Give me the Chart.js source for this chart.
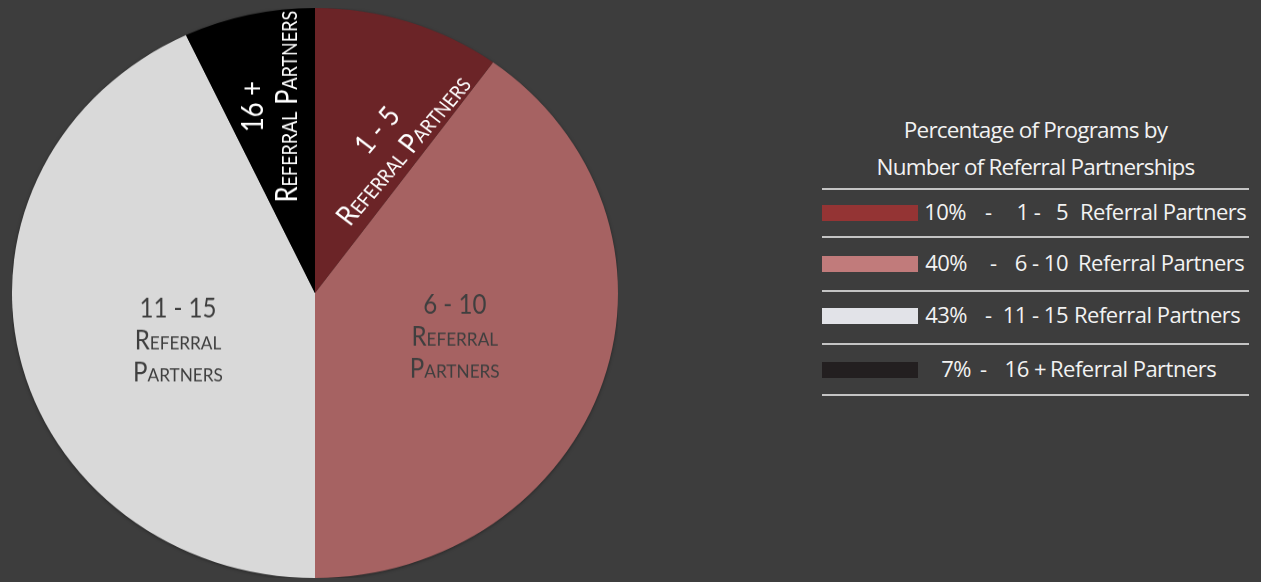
<!DOCTYPE html>
<html>
<head>
<meta charset="utf-8">
<script src="https://cdn.jsdelivr.net/npm/chart.js@4/dist/chart.umd.min.js"></script>
<style>
    html, body { margin: 0; padding: 0; }
    body { width: 1261px; height: 582px; background: #3d3d3d; overflow: hidden; position: relative; font-family: "Open Sans", sans-serif; }
    #pie-wrap { position: absolute; left: 12px; top: -10px; width: 606px; height: 606px; transform: scaleY(0.9406); transform-origin: 50% 50%; }
    #legend { position: absolute; left: 822px; top: 0; width: 427px; height: 582px; color: #f2f2f2; }
    #legend .title { position: absolute; top: 111px; left: 0; width: 100%; text-align: center; font-size: 22.5px; line-height: 37px; letter-spacing: -0.8px; }
    #legend .rule { position: absolute; left: 0; width: 100%; height: 2px; background: #c4c4c4; }
    #legend .swatch { position: absolute; left: 0; width: 96px; height: 16px; }
    #legend .part { position: absolute; font-size: 22px; line-height: 26px; white-space: pre; letter-spacing: -0.5px; }
</style>
</head>
<body>
<div id="pie-wrap"><canvas id="pie" width="606" height="606"></canvas></div>
<div id="legend"></div>

<script>
// data
const categories = ['1 - 5 Referral Partners', '6 - 10 Referral Partners', '11 - 15 Referral Partners', '16 + Referral Partners'];
const ranges = ['1 - 5', '6 - 10', '11 - 15', '16 +'];
const percents = [10, 40, 43, 7];
const legendRanges = ['1 -   5', '6 - 10', '11 - 15', '16 +'];
const legendTitle = ['Percentage of Programs by', 'Number of Referral Partnerships'];

// colours
const sliceColors = ['#6b2427', '#a66262', '#d9d9d9', '#000000'];
const swatchColors = ['#943434', '#c17b7b', '#e2e3e8', '#231f20'];

// label placement inside the slices
const labelStyle = [
    { f: 0.59, shift: 7, rot: -51, color: '#ffffff', split: false, size: 29, sx: 0.91 },
    { f: 0.485, shift: 0, rot: 0, color: '#3f3f3f', split: true, size: 28, sx: 0.86 },
    { f: 0.48, shift: -7, rot: 0, color: '#3f3f3f', split: true, size: 28, sx: 0.86 },
    { f: 0.67, shift: 0, rot: -90, color: '#ffffff', split: false, size: 30, sx: 0.91 }
];

// shadow under the pie
const pieShadow = {
    id: 'pieShadow',
    beforeDatasetsDraw(chart) {
        const arc = chart.getDatasetMeta(0).data[0];
        const ctx = chart.ctx;
        ctx.save();
        ctx.shadowColor = 'rgba(0,0,0,0.6)';
        ctx.shadowBlur = 4;
        ctx.shadowOffsetY = 1;
        ctx.fillStyle = '#000';
        ctx.beginPath();
        ctx.arc(arc.x, arc.y, arc.outerRadius - 1, 0, Math.PI * 2);
        ctx.fill();
        ctx.restore();
    }
};

// text in the slices
const sliceLabels = {
    id: 'sliceLabels',
    afterDatasetsDraw(chart) {
        const ctx = chart.ctx;
        chart.getDatasetMeta(0).data.forEach((arc, i) => {
            const p = arc.getProps(['x', 'y', 'startAngle', 'endAngle', 'outerRadius'], true);
            const st = labelStyle[i];
            const mid = (p.startAngle + p.endAngle) / 2 + st.shift * Math.PI / 180;
            const px = p.x + Math.cos(mid) * p.outerRadius * st.f;
            const py = p.y + Math.sin(mid) * p.outerRadius * st.f + (st.split ? 2 : 0);
            const lines = st.split ? [ranges[i], 'Referral', 'Partners'] : [ranges[i], 'Referral Partners'];
            const gap = 34;
            const top = -(lines.length - 1) * gap / 2;

            ctx.save();
            ctx.translate(px, py);
            ctx.rotate(st.rot * Math.PI / 180);
            ctx.scale(st.sx, 1);
            ctx.fillStyle = st.color;
            ctx.textAlign = 'center';
            ctx.textBaseline = 'middle';
            lines.forEach((t, k) => {
                ctx.font = (k == 0 ? '' : 'small-caps ') + st.size + 'px Lato';
                ctx.fillText(t, 0, top + k * gap);
            });
            ctx.restore();
        });
    }
};

var ctx = document.getElementById('pie').getContext('2d');
var myPie = new Chart(ctx, {
    type: 'pie',
    data: {
        labels: categories,
        datasets: [{
            data: percents,
            backgroundColor: sliceColors,
            borderWidth: 0
        }]
    },
    options: {
        responsive: false,
        animation: false,
        layout: { padding: 0 },
        plugins: {
            legend: { display: false },
            tooltip: { enabled: false }
        }
    },
    plugins: [pieShadow, sliceLabels]
});

// legend on the right
const legend = document.getElementById('legend');
const title = document.createElement('div');
title.className = 'title';
title.innerHTML = legendTitle.join('<br>');
legend.appendChild(title);

const ruleTops = [188, 236, 290, 343, 394];
const rowCenters = [212, 263, 315, 369];
// column positions of each row, relative to legend left
const pctRight = [144, 145, 145, 149];
const dashLeft = [163, 168, 163, 158];
const rangeRight = [246, 246, 246, 224];
const textLeft = [258, 256, 252, 228];

function addPart(text, row, left, right) {
    const el = document.createElement('div');
    el.className = 'part';
    el.textContent = text;
    el.style.top = (rowCenters[row] - 14) + 'px';
    if (right != null) {
        el.style.right = (427 - right) + 'px';
    } else {
        el.style.left = left + 'px';
    }
    legend.appendChild(el);
}

ruleTops.forEach(t => {
    const r = document.createElement('div');
    r.className = 'rule';
    r.style.top = t + 'px';
    legend.appendChild(r);
});
percents.forEach((v, i) => {
    const sw = document.createElement('div');
    sw.className = 'swatch';
    sw.style.top = (rowCenters[i] - 7) + 'px';
    sw.style.background = swatchColors[i];
    legend.appendChild(sw);

    addPart(v + '%', i, null, pctRight[i]);
    addPart('-', i, dashLeft[i], null);
    addPart(legendRanges[i], i, null, rangeRight[i]);
    addPart('Referral Partners', i, textLeft[i], null);
});
</script>
</body>
</html>
